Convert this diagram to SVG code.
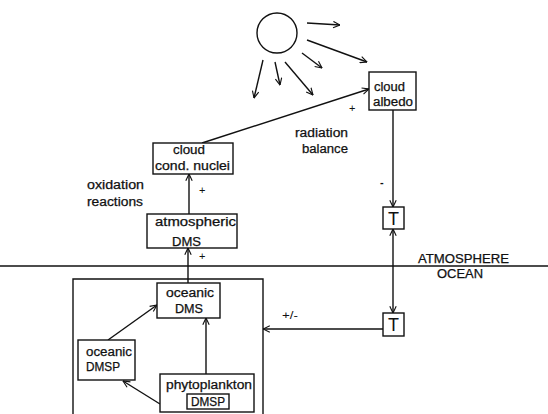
<svg xmlns="http://www.w3.org/2000/svg" width="548" height="414" viewBox="0 0 548 414">
<style>
.ln{fill:none;stroke:#111;stroke-width:1.4}
.bx{fill:#fff;stroke:#111;stroke-width:1.4}
.t{font-family:"Liberation Sans",Arial,sans-serif;font-size:12px;fill:#111;stroke:#111;stroke-width:0.25}
.s{font-family:"Liberation Sans",Arial,sans-serif;font-size:11px;fill:#111}
.T{font-family:"Liberation Sans",Arial,sans-serif;font-size:18px;fill:#111}
</style>
<defs>
<marker id="a" viewBox="0 0 10 10" refX="9.5" refY="5" markerWidth="8" markerHeight="8" markerUnits="userSpaceOnUse" orient="auto-start-reverse">
<path d="M1,1 L9.5,5 L1,9" fill="none" stroke="#111" stroke-width="1.4"/>
</marker>
</defs>
<rect width="548" height="414" fill="#fff"/>

<g id="sun">
<circle cx="277" cy="33" r="20" class="ln"/>
</g>

<g id="connectors">
<line class="ln" x1="307" y1="23" x2="340" y2="25" marker-end="url(#a)"/>
<line class="ln" x1="307" y1="40" x2="367" y2="62" marker-end="url(#a)"/>
<line class="ln" x1="302" y1="53" x2="322" y2="68" marker-end="url(#a)"/>
<line class="ln" x1="263" y1="60" x2="254" y2="98" marker-end="url(#a)"/>
<line class="ln" x1="275" y1="62" x2="280" y2="85" marker-end="url(#a)"/>
<line class="ln" x1="285" y1="62" x2="313" y2="95" marker-end="url(#a)"/>
<line class="ln" x1="202" y1="143" x2="369" y2="89" marker-end="url(#a)"/>
<line class="ln" x1="393" y1="110" x2="393" y2="207" marker-end="url(#a)"/>
<line class="ln" x1="393" y1="229" x2="393" y2="313" marker-start="url(#a)" marker-end="url(#a)"/>
<line class="ln" x1="383" y1="329" x2="263" y2="329" marker-end="url(#a)"/>
<line class="ln" x1="189" y1="214" x2="189" y2="174" marker-end="url(#a)"/>
<line class="ln" x1="188" y1="283" x2="188" y2="248" marker-end="url(#a)"/>
<line class="ln" x1="206" y1="374" x2="206" y2="318" marker-end="url(#a)"/>
<line class="ln" x1="108" y1="340" x2="157" y2="305" marker-end="url(#a)"/>
<line class="ln" x1="160" y1="404" x2="123" y2="381" marker-end="url(#a)"/>
<line class="ln" x1="0" y1="266" x2="548" y2="266"/>
</g>

<g id="ocean-box">
<path class="ln" d="M73,414 V279 H263 V414"/>
</g>

<g id="cloud-albedo">
<rect class="bx" x="369" y="72" width="47" height="38"/>
<text class="t" x="374" y="91" textLength="31" lengthAdjust="spacingAndGlyphs">cloud</text>
<text class="t" x="373" y="106" textLength="40" lengthAdjust="spacingAndGlyphs">albedo</text>
</g>

<g id="cloud-cond-nuclei">
<rect class="bx" x="153" y="143" width="80" height="31"/>
<text class="t" x="173" y="154" textLength="32" lengthAdjust="spacingAndGlyphs">cloud</text>
<text class="t" x="155" y="170" textLength="75" lengthAdjust="spacingAndGlyphs">cond. nuclei</text>
</g>

<g id="atmospheric-dms">
<rect class="bx" x="147" y="214" width="90" height="34"/>
<text class="t" x="155" y="226" textLength="81" lengthAdjust="spacingAndGlyphs">atmospheric</text>
<text class="t" x="172" y="246" textLength="29" lengthAdjust="spacingAndGlyphs">DMS</text>
</g>

<g id="t-upper">
<rect class="bx" x="383" y="207" width="21" height="22"/>
<text class="T" x="393.5" y="225" text-anchor="middle">T</text>
</g>

<g id="t-lower">
<rect class="bx" x="383" y="313" width="21" height="23"/>
<text class="T" x="393.5" y="331" text-anchor="middle">T</text>
</g>

<g id="oceanic-dms">
<rect class="bx" x="157" y="283" width="63" height="35"/>
<text class="t" x="166" y="297" textLength="48" lengthAdjust="spacingAndGlyphs">oceanic</text>
<text class="t" x="175" y="313" textLength="28" lengthAdjust="spacingAndGlyphs">DMS</text>
</g>

<g id="oceanic-dmsp">
<rect class="bx" x="78" y="340" width="57" height="40"/>
<text class="t" x="86" y="356" textLength="46" lengthAdjust="spacingAndGlyphs">oceanic</text>
<text class="t" x="86" y="371" textLength="34" lengthAdjust="spacingAndGlyphs">DMSP</text>
</g>

<g id="phytoplankton">
<rect class="bx" x="160" y="374" width="94" height="38"/>
<text class="t" x="166" y="389" textLength="86" lengthAdjust="spacingAndGlyphs">phytoplankton</text>
<rect class="bx" x="187" y="394" width="42" height="15"/>
<text class="t" x="191" y="406" textLength="34" lengthAdjust="spacingAndGlyphs">DMSP</text>
</g>

<g id="labels">
<text class="t" x="295" y="137" textLength="53" lengthAdjust="spacingAndGlyphs">radiation</text>
<text class="t" x="302" y="153" textLength="46" lengthAdjust="spacingAndGlyphs">balance</text>
<text class="t" x="87" y="189" textLength="57" lengthAdjust="spacingAndGlyphs">oxidation</text>
<text class="t" x="87" y="206" textLength="56" lengthAdjust="spacingAndGlyphs">reactions</text>
<text class="t" x="418" y="263" textLength="91" lengthAdjust="spacingAndGlyphs">ATMOSPHERE</text>
<text class="t" x="437" y="278" textLength="46" lengthAdjust="spacingAndGlyphs">OCEAN</text>
<text class="s" x="349" y="112">+</text>
<text class="s" x="199" y="194">+</text>
<text class="s" x="199" y="260">+</text>
<text class="s" x="380" y="186" font-size="14" font-weight="bold">-</text>
<text class="s" x="282" y="319" textLength="16" lengthAdjust="spacingAndGlyphs">+/-</text>
</g>
</svg>
